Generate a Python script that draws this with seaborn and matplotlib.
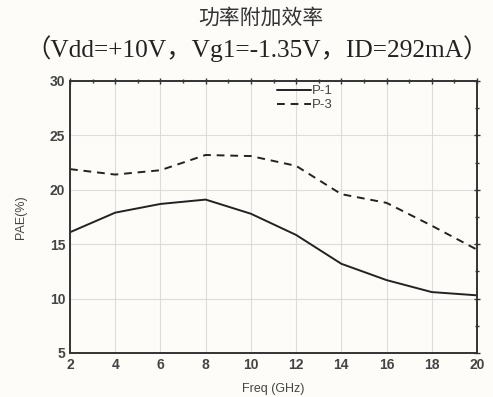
import matplotlib
matplotlib.use("Agg")
import matplotlib.pyplot as plt
import seaborn as sns
import pandas as pd
from matplotlib.ticker import MultipleLocator

freq = [2, 4, 6, 8, 10, 12, 14, 16, 18, 20]
p1 = [16.1, 17.9, 18.7, 19.1, 17.8, 15.85, 13.2, 11.7, 10.6, 10.3]
p3 = [21.9, 21.4, 21.8, 23.2, 23.1, 22.2, 19.6, 18.8, 16.7, 14.5]
series_names = ["P-1", "P-3"]
title_cn = "功率附加效率"
subtitle = "（Vdd=+10V，Vg1=-1.35V，ID=292mA）"

df = pd.DataFrame({"freq": freq * 2, "pae": p1 + p3,
                   "series": [series_names[0]] * len(freq) + [series_names[1]] * len(freq)})

sns.set_theme(style="white")
plt.rcParams['font.family'] = ['Liberation Sans', 'DejaVu Sans']

bg = "#fdfcf9"
fig = plt.figure(figsize=(4.93, 3.97), dpi=100, facecolor=bg)
ax = fig.add_axes([70/493, 1 - 353/397, (477-70)/493, (353-81)/397])
ax.set_facecolor(bg)

sns.lineplot(data=df, x="freq", y="pae", style="series", color="#222222",
             dashes={"P-1": "", "P-3": (4, 3)}, linewidth=1.4, ax=ax, legend=True)

ax.set_xlim(2, 20)
ax.set_ylim(5, 30)
ax.xaxis.set_major_locator(MultipleLocator(2))
ax.xaxis.set_minor_locator(MultipleLocator(1))
ax.yaxis.set_major_locator(MultipleLocator(5))
ax.yaxis.set_minor_locator(MultipleLocator(2.5))
ax.grid(True, which="major", color="#dcdcdc", linewidth=0.8)
for s in ax.spines.values():
    s.set_color("#333333")
    s.set_linewidth(1.4)
ax.tick_params(axis="both", which="major", direction="inout", length=5, width=1,
               color="#333333", labelsize=10, labelcolor="#444444", pad=1)
ax.tick_params(axis="both", which="minor", direction="inout", length=3, width=1, color="#333333")
ax.tick_params(top=True, right=True, which="both", labeltop=False, labelright=False)
for lab in ax.get_xticklabels() + ax.get_yticklabels():
    lab.set_fontweight("bold")

ax.set_xlabel("Freq (GHz)", fontsize=9, color="#444444", labelpad=8)
ax.set_ylabel("PAE(%)", fontsize=9, color="#444444", labelpad=16)

leg = ax.legend(loc="upper left", bbox_to_anchor=(0.495, 1.005), frameon=False,
                fontsize=9.5, handlelength=2.6, handletextpad=0.1, labelspacing=0.15,
                borderaxespad=0)
for t in leg.get_texts():
    t.set_color("#444444")

fig.text(0.53, 1 - 18/397, title_cn, ha="center", va="center", fontsize=15,
         family=["Noto Sans CJK SC", "DejaVu Sans"], color="#333333")
fig.text(0.522, 1 - 49/397, subtitle, ha="center", va="center", fontsize=18.3,
         family=["Liberation Serif", "Noto Sans CJK SC"], color="#222222")

fig.savefig("out.png", dpi=100, facecolor=bg)
